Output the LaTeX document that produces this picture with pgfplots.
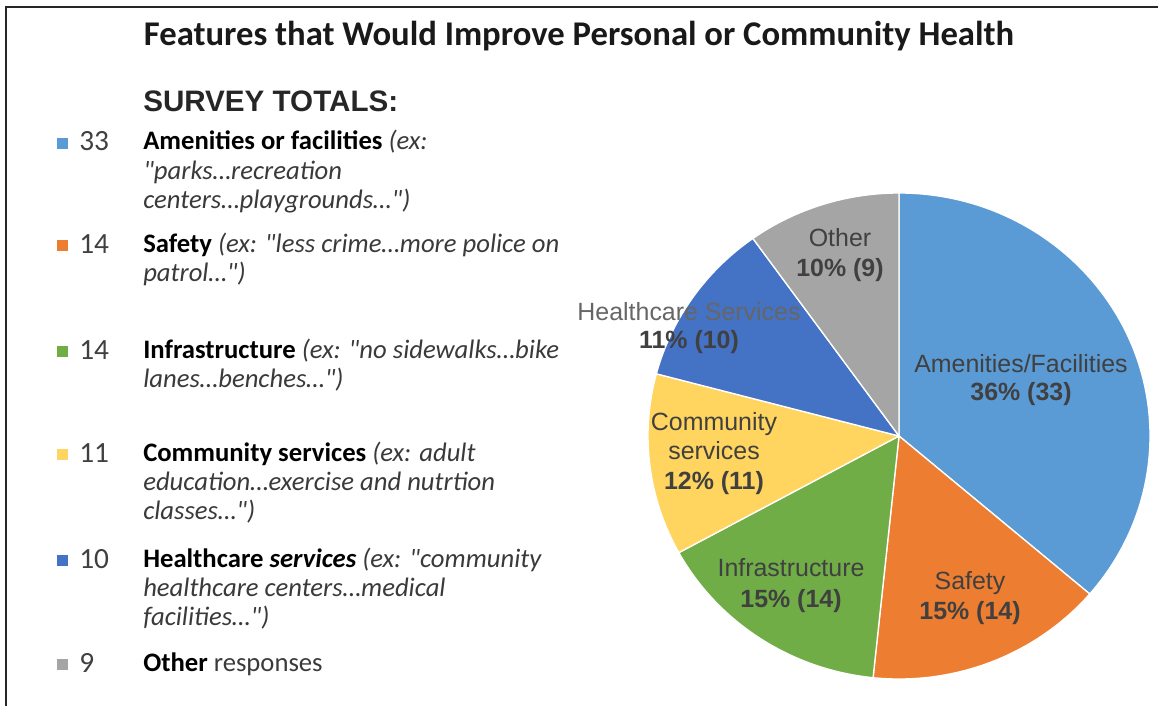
\documentclass[border=0pt]{standalone}
\usepackage{pgfplots}
\usepackage{pgfplotstable}
\pgfplotsset{compat=1.18}
\usepackage{fontspec}
\setmainfont{Carlito}[Ligatures=TeXOff]
\newfontfamily\arial{Liberation Sans}
\definecolor{cA}{HTML}{5B9BD5}
\definecolor{cB}{HTML}{ED7D31}
\definecolor{cC}{HTML}{70AD47}
\definecolor{cD}{HTML}{FFD45F}
\definecolor{cE}{HTML}{4472C4}
\definecolor{cF}{HTML}{A5A5A5}
\definecolor{txt}{HTML}{404040}
\definecolor{itx}{HTML}{3A3A3A}

\pgfplotstableread{
label value color
Amenities 33 cA
Safety 14 cB
Infrastructure 14 cC
Community 11 cD
Healthcare 10 cE
Other 9 cF
}\piedata

\begin{document}
\begin{tikzpicture}
\begin{axis}[
  scale only axis, width=868.5pt, height=529.5pt,
  xmin=0, xmax=1158, ymin=0, ymax=706, y dir=reverse,
  hide axis, clip=false]
% total
\def\total{0}
\pgfplotsforeachungrouped \i in {0,...,5}{%
  \pgfplotstablegetelem{\i}{value}\of\piedata
  \pgfmathsetmacro\total{\total+\pgfplotsretval}%
}
\def\cum{0}
\pgfplotsforeachungrouped \i in {0,...,5}{%
  \pgfplotstablegetelem{\i}{value}\of\piedata \let\v=\pgfplotsretval
  \pgfplotstablegetelem{\i}{color}\of\piedata \let\c=\pgfplotsretval
  \pgfmathsetmacro\a{90-\cum/\total*360}%
  \pgfmathsetmacro\b{90-(\cum+\v)/\total*360}%
  \edef\temp{\noexpand\filldraw[fill=\c, draw=white, line width=1pt, line join=round]
    (axis cs:899,436) -- ++(\a:188.25pt and 182.25pt)
    arc[start angle=\a, end angle=\b, x radius=188.25pt, y radius=182.25pt] -- cycle;}%
  \temp
  \pgfmathsetmacro\cum{\cum+\v}%
}
% frame
\fill[black!85] (axis cs:5,6) rectangle (axis cs:7,706);
\fill[black!85] (axis cs:5,6) rectangle (axis cs:1158,8);
% title
\node[font=\fontsize{26}{30}\selectfont\bfseries, text=black!90, anchor=base] at (axis cs:579,46) {Features that Would Improve Personal or Community Health};
% legend heading
\node[font=\arial\fontsize{22.2}{25}\selectfont\bfseries, text=black!85, anchor=base west, inner sep=0pt] at (axis cs:143,112) {SURVEY TOTALS:};
% legend entries
\tikzset{lg/.style={font=\fontsize{20}{23}\selectfont, anchor=base west, inner sep=0pt, text=itx},
         ln/.style={font=\fontsize{22}{25}\selectfont, anchor=base west, inner sep=0pt, text=txt}}
\fill[cA] (axis cs:57,138) rectangle (axis cs:68,149);
\node[ln] at (axis cs:79,151) {33};
\node[lg] at (axis cs:143,150) {\textcolor{black}{\textbf{Amenities or facilities}} \textit{(ex:}};
\node[lg] at (axis cs:143,179) {\textit{"parks…recreation}};
\node[lg] at (axis cs:143,208) {\textit{centers…playgrounds…")}};
\fill[cB] (axis cs:57,240) rectangle (axis cs:68,251);
\node[ln] at (axis cs:79,253) {14};
\node[lg] at (axis cs:143,252) {\textcolor{black}{\textbf{Safety}} \textit{(ex: "less crime…more police on}};
\node[lg] at (axis cs:143,281) {\textit{patrol…")}};
\fill[cC] (axis cs:57,346) rectangle (axis cs:68,357);
\node[ln] at (axis cs:79,359) {14};
\node[lg] at (axis cs:143,358) {\textcolor{black}{\textbf{Infrastructure}} \textit{(ex: "no sidewalks…bike}};
\node[lg] at (axis cs:143,387) {\textit{lanes…benches…")}};
\fill[cD] (axis cs:57,449) rectangle (axis cs:68,460);
\node[ln] at (axis cs:79,462) {11};
\node[lg] at (axis cs:143,461) {\textcolor{black}{\textbf{Community services}} \textit{(ex: adult}};
\node[lg] at (axis cs:143,490) {\textit{education…exercise and nutrtion}};
\node[lg] at (axis cs:143,519) {\textit{classes…")}};
\fill[cE] (axis cs:57,555) rectangle (axis cs:68,566);
\node[ln] at (axis cs:79,568) {10};
\node[lg] at (axis cs:143,567) {\textcolor{black}{\textbf{Healthcare \textit{services}}} \textit{(ex: "community}};
\node[lg] at (axis cs:143,596) {\textit{healthcare centers…medical}};
\node[lg] at (axis cs:143,625) {\textit{facilities…")}};
\fill[cF] (axis cs:57,659) rectangle (axis cs:68,670);
\node[ln] at (axis cs:79,672) {9};
\node[lg] at (axis cs:143,671) {\textcolor{black}{\textbf{Other}} responses};
% pie labels
\tikzset{pl/.style={font=\arial\fontsize{18.7}{21}\selectfont, text=txt, anchor=base, inner sep=0pt},
         pb/.style={font=\arial\fontsize{18.7}{21}\selectfont\bfseries, text=txt, anchor=base, inner sep=0pt}}
\node[pl] at (axis cs:840,246) {Other};
\node[pb] at (axis cs:840,276) {10\% (9)};
\node[pl, text=black!60] at (axis cs:689,320) {Healthcare Services};
\node[pb] at (axis cs:689,348) {11\% (10)};
\node[pl] at (axis cs:1021,372) {Amenities/Facilities};
\node[pb] at (axis cs:1021,400) {36\% (33)};
\node[pl] at (axis cs:714,430) {Community};
\node[pl] at (axis cs:714,459) {services};
\node[pb] at (axis cs:714,489) {12\% (11)};
\node[pl] at (axis cs:791,576) {Infrastructure};
\node[pb] at (axis cs:791,607) {15\% (14)};
\node[pl] at (axis cs:970,589) {Safety};
\node[pb] at (axis cs:970,619) {15\% (14)};
\end{axis}
\pgfresetboundingbox
\path[use as bounding box] (current axis.south west) rectangle (current axis.north east);
\end{tikzpicture}
\end{document}
